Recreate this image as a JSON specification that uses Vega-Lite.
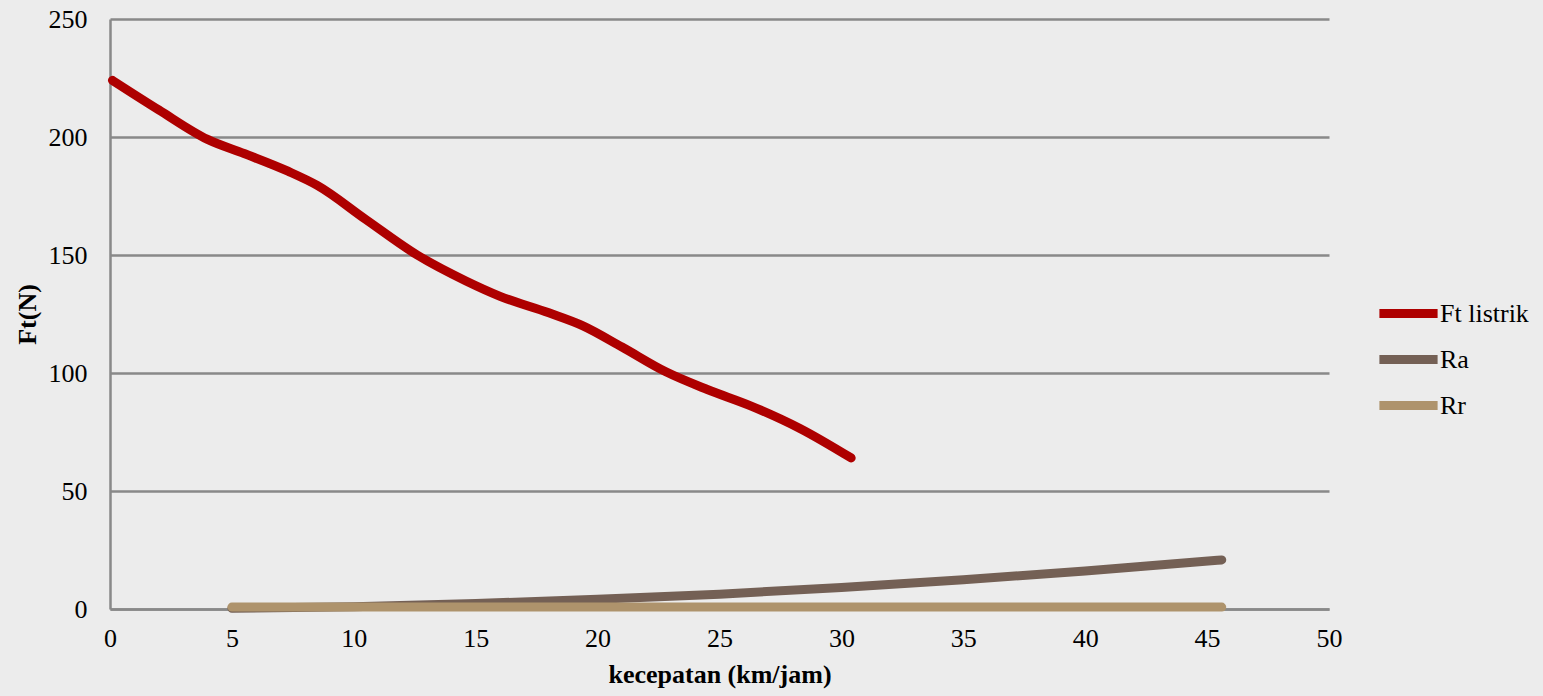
{
  "$schema": "https://vega.github.io/schema/vega-lite/v6.json",
  "width": 1219,
  "height": 590,
  "autosize": {"type": "none"},
  "padding": {"left": 110, "top": 19, "right": 214, "bottom": 87},
  "background": "#ECECEC",
  "config": {
    "view": {"stroke": null},
    "font": "Liberation Serif",
    "axis": {"labelFont": "Liberation Serif", "titleFont": "Liberation Serif"},
    "legend": {"labelFont": "Liberation Serif"}
  },
  "data": {
    "values": [
      {"v": 0.1, "gaya": 224, "seri": "Ft listrik"},
      {"v": 2, "gaya": 211.5, "seri": "Ft listrik"},
      {"v": 4, "gaya": 199, "seri": "Ft listrik"},
      {"v": 5.5, "gaya": 193, "seri": "Ft listrik"},
      {"v": 7.3, "gaya": 185.5, "seri": "Ft listrik"},
      {"v": 8.5, "gaya": 179.5, "seri": "Ft listrik"},
      {"v": 10.5, "gaya": 165, "seri": "Ft listrik"},
      {"v": 12.6, "gaya": 150, "seri": "Ft listrik"},
      {"v": 14.6, "gaya": 139, "seri": "Ft listrik"},
      {"v": 16, "gaya": 132.5, "seri": "Ft listrik"},
      {"v": 18, "gaya": 125.5, "seri": "Ft listrik"},
      {"v": 19.4, "gaya": 120, "seri": "Ft listrik"},
      {"v": 21, "gaya": 111, "seri": "Ft listrik"},
      {"v": 22.8, "gaya": 100.5, "seri": "Ft listrik"},
      {"v": 24.5, "gaya": 93, "seri": "Ft listrik"},
      {"v": 26.3, "gaya": 86, "seri": "Ft listrik"},
      {"v": 28.3, "gaya": 76.5, "seri": "Ft listrik"},
      {"v": 30.4, "gaya": 64, "seri": "Ft listrik"},
      {"v": 5, "gaya": 0.3, "seri": "Ra"},
      {"v": 10, "gaya": 1.0, "seri": "Ra"},
      {"v": 15, "gaya": 2.3, "seri": "Ra"},
      {"v": 20, "gaya": 4.1, "seri": "Ra"},
      {"v": 25, "gaya": 6.3, "seri": "Ra"},
      {"v": 30, "gaya": 9.1, "seri": "Ra"},
      {"v": 35, "gaya": 12.4, "seri": "Ra"},
      {"v": 40, "gaya": 16.1, "seri": "Ra"},
      {"v": 45.6, "gaya": 20.8, "seri": "Ra"},
      {"v": 5, "gaya": 0.8, "seri": "Rr"},
      {"v": 45.6, "gaya": 0.8, "seri": "Rr"}
    ]
  },
  "mark": {
    "type": "line",
    "interpolate": "monotone",
    "strokeWidth": 9,
    "strokeCap": "round",
    "strokeJoin": "round",
    "clip": false
  },
  "encoding": {
    "x": {
      "field": "v",
      "type": "quantitative",
      "title": "kecepatan (km/jam)",
      "scale": {"domain": [0, 50], "nice": false, "zero": true},
      "axis": {
        "values": [0, 5, 10, 15, 20, 25, 30, 35, 40, 45, 50],
        "grid": false,
        "domainColor": "#898989",
        "domainWidth": 2.5,
        "ticks": false,
        "labelFlush": false,
        "labelFontSize": 26,
        "labelColor": "#000000",
        "labelPadding": 16,
        "titleFontSize": 26,
        "titleFontWeight": "bold",
        "titleColor": "#000000",
        "titlePadding": 10
      }
    },
    "y": {
      "field": "gaya",
      "type": "quantitative",
      "title": "Ft(N)",
      "scale": {"domain": [0, 250], "nice": false},
      "axis": {
        "values": [0, 50, 100, 150, 200, 250],
        "grid": true,
        "gridColor": "#898989",
        "gridWidth": 2.5,
        "domainColor": "#898989",
        "domainWidth": 2.5,
        "ticks": false,
        "labelFontSize": 26,
        "labelColor": "#000000",
        "labelPadding": 23,
        "titleFontSize": 26,
        "titleFontWeight": "bold",
        "titleColor": "#000000",
        "titlePadding": 8
      }
    },
    "color": {
      "field": "seri",
      "type": "nominal",
      "scale": {
        "domain": ["Ft listrik", "Ra", "Rr"],
        "range": ["#AE0000", "#746055", "#AE936C"]
      },
      "legend": {
        "title": null,
        "orient": "none",
        "legendX": 1271,
        "legendY": 267,
        "symbolType": "M-1.27,0H1.27",
        "symbolSize": 2100,
        "symbolStrokeWidth": 9,
        "labelFontSize": 26,
        "labelColor": "#000000",
        "labelOffset": 4,
        "rowPadding": 0
      }
    },
    "order": {"field": "v", "type": "quantitative"}
  }
}
